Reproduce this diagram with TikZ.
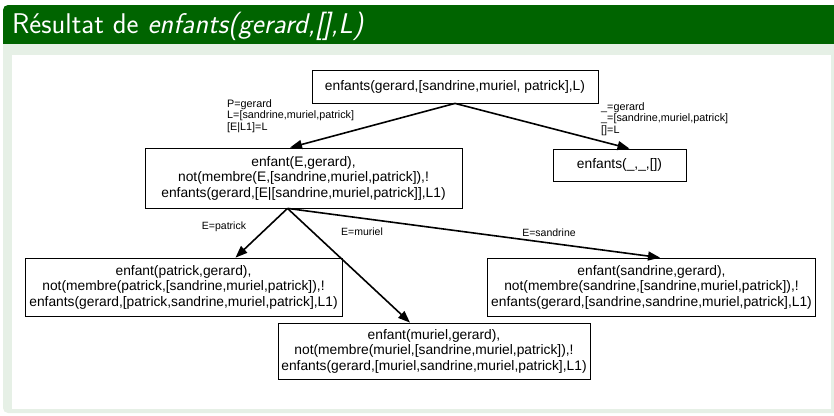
\documentclass[tikz,border=0pt]{standalone}
\usepackage{fontspec}
\newfontfamily\arialfont{Liberation Sans}
\usetikzlibrary{arrows.meta}
\definecolor{blocktitle}{RGB}{0,100,0}
\definecolor{blockbody}{RGB}{230,240,230}

\begin{document}
\begin{tikzpicture}
[x=1pt,y=-1pt]
\tikzset{goal/.style={draw,line width=.8pt,align=center,inner sep=0pt,font=\arialfont\fontsize{13.8}{15.5}\selectfont}}
\tikzset{unif/.style={anchor=north west,align=left,inner sep=0pt,font=\arialfont\fontsize{10.8}{11.5}\selectfont}}
\tikzset{elbl/.style={inner sep=0pt,font=\arialfont\fontsize{10.5}{12}\selectfont}}
\tikzset{arc/.style={line width=1.6pt,-{Triangle[length=12pt,width=9pt]}}}
\useasboundingbox (0,0) rectangle (834,415);
\begin{scope}
\clip (0,0) rectangle (834,415);
\fill[blocktitle,rounded corners=5pt] (3,5) rectangle (850,60);
\fill[blockbody,rounded corners=5pt] (3,44) rectangle (850,413);
\fill[blockbody] (3,44) rectangle (850,60);
\fill[white] (12,55) rectangle (831,409);
\end{scope}
\node[anchor=base west,inner sep=0pt,text=white,font=\sffamily\fontsize{28.5}{32}\selectfont] (titre) at (12,33) {Résultat de \textit{enfants(gerard,[],L)}};

\node [goal,minimum width=286pt,minimum height=33pt] (root) at (455,86.5) {enfants(gerard,[sandrine,muriel, patrick],L)};
\node [goal,minimum width=317pt,minimum height=60pt] (e) at (303.5,178) {enfant(E,gerard),\\not(membre(E,[sandrine,muriel,patrick]),!\\enfants(gerard,[E|[sandrine,muriel,patrick]],L1)};
\node [goal,minimum width=133pt,minimum height=32pt] (vide) at (619.5,165) {enfants(\_,\_,[])};
\node [goal,minimum width=317pt,minimum height=58pt] (patrick) at (183.5,287) {enfant(patrick,gerard),\\not(membre(patrick,[sandrine,muriel,patrick]),!\\enfants(gerard,[patrick,sandrine,muriel,patrick],L1)};
\node [goal,minimum width=328pt,minimum height=58pt] (sandrine) at (651.5,287) {enfant(sandrine,gerard),\\not(membre(sandrine,[sandrine,muriel,patrick]),!\\enfants(gerard,[sandrine,sandrine,muriel,patrick],L1)};
\node [goal,minimum width=312pt,minimum height=56pt] (muriel) at (434,351) {enfant(muriel,gerard),\\not(membre(muriel,[sandrine,muriel,patrick]),!\\enfants(gerard,[muriel,sandrine,muriel,patrick],L1)};

\node [unif] (u1) at (227,99) {P=gerard\\L=[sandrine,muriel,patrick]\\{[E|L1]=L}};
\node [unif] (u2) at (601,102) {\_=gerard\\\_=[sandrine,muriel,patrick]\\{[]=L}};
\node [elbl] (lp) at (224,227) {E=patrick};
\node [elbl] (lm) at (362,232) {E=muriel};
\node [elbl] (ls) at (549,233) {E=sandrine};

\foreach \from/\fx/\to/\tx in {root/0/e/-13.5,root/0/vide/10,e/-16/patrick/52,e/-16/muriel/-24,e/-16/sandrine/8.5}
	\draw[arc] ([xshift=\fx pt]\from.south) -- ([xshift=\tx pt]\to.north);
\end{tikzpicture}
\end{document}
